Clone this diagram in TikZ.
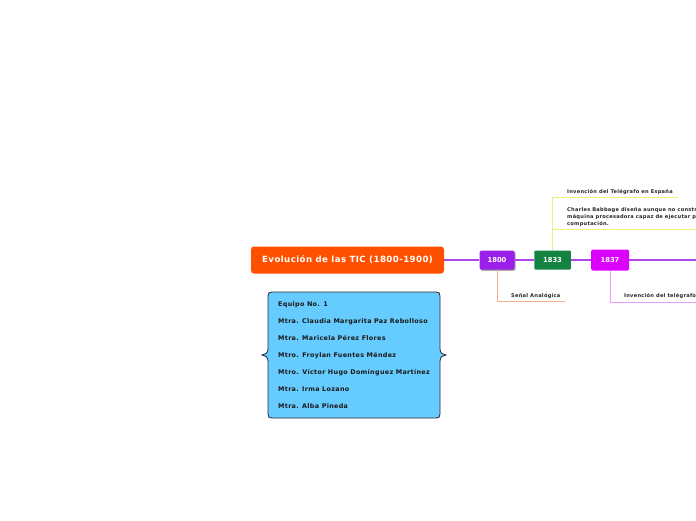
\documentclass[tikz,border=0pt]{standalone}
\usepackage{fontspec}
\setmainfont{DejaVu Sans}
\usetikzlibrary{shadows}
\definecolor{mainor}{RGB}{255,80,0}
\definecolor{trunk}{RGB}{175,70,230}
\definecolor{cA}{RGB}{155,30,235}
\definecolor{cB}{RGB}{20,130,65}
\definecolor{cC}{RGB}{220,0,255}
\definecolor{brA}{RGB}{248,175,140}
\definecolor{brB}{RGB}{238,240,130}
\definecolor{brC}{RGB}{238,155,255}
\definecolor{boxblue}{RGB}{102,204,255}
\definecolor{boxline}{RGB}{40,40,55}
\newfontfamily\wideface[LetterSpace=5]{DejaVu Sans}
\tikzset{
  yearbox/.style={rounded corners=1.5pt, text=white, font=\fontsize{6.8}{7}\selectfont\bfseries, inner sep=0pt},
  leaf/.style={anchor=base west, inner sep=0pt, font=\wideface\fontsize{5.1}{7}\selectfont\bfseries, text=black!85},
  member/.style={anchor=base west, inner sep=0pt, font=\wideface\fontsize{6.4}{7}\selectfont\bfseries, text=black!90},
  trunkline/.style={draw=trunk, line width=1.1pt},
}
\begin{document}
\begin{tikzpicture}[x=1pt,y=-1pt]
\useasboundingbox (0,0) rectangle (696,520);
\begin{scope}
\clip (0,0) rectangle (696,520);
% main topic
\node[fill=mainor, rounded corners=3pt, minimum width=193pt, minimum height=27pt, text=white,
      font=\wideface\fontsize{8.6}{9}\selectfont\bfseries] (main) at (347.5,260) {Evolución de las TIC (1800-1900)};
% year nodes
\node[yearbox, fill=cA, minimum width=35pt, minimum height=19pt,
      drop shadow={shadow xshift=1pt, shadow yshift=-1.3pt, fill=black!35, opacity=1}] (n1800) at (497,260) {1800};
\node[yearbox, fill=cB, rounded corners=1pt, minimum width=36.5pt, minimum height=19pt] (n1833) at (552.5,260) {1833};
\node[yearbox, fill=cC, minimum width=38pt, minimum height=21pt] (n1837) at (610,260) {1837};
\coordinate (rightend) at (700,260);
% trunk
\draw[trunkline] (main.east) -- (n1800.west);
\draw[trunkline] (n1800.east) -- (n1833.west);
\draw[trunkline] (n1833.east) -- (n1837.west);
\draw[trunkline] (n1837.east) -- (rightend);
% branches
\coordinate (eA) at (565,301.5);
\draw[brA, line width=0.9pt] (n1800.south) |- (eA);
\node[leaf] (lA) at (511,297.5) {Señal Analógica};
\coordinate (eB1) at (678,197);
\coordinate (eB2) at (700,229);
\draw[brB, line width=0.9pt] (n1833.north) |- (eB1);
\draw[brB, line width=0.9pt] (n1833.north) |- (eB2);
\node[leaf] (lB1) at (567,193) {Invención del Telégrafo en España};
\node[leaf, anchor=north west, align=left] (lB2) at (567,207.5) {Charles Babbage diseña aunque no constr\\máquina procesadora capaz de ejecutar p\\computación.};
\coordinate (eC) at (700,302);
\draw[brC, line width=0.9pt] (n1837.south) |- (eC);
\node[leaf] (lC) at (624,297.5) {Invención del telégrafo};
% team box
\draw[fill=boxblue, draw=boxline, line width=0.8pt]
  (272,292) -- (436,292) .. controls (439,292) and (440,293) .. (440,296)
  -- (440,349) .. controls (440,353) and (443,355) .. (446,355)
  .. controls (443,355) and (440,357) .. (440,361)
  -- (440,414) .. controls (440,417) and (439,418) .. (436,418)
  -- (272,418) .. controls (269,418) and (268,417) .. (268,414)
  -- (268,361) .. controls (268,357) and (265,355) .. (262,355)
  .. controls (265,355) and (268,353) .. (268,349)
  -- (268,296) .. controls (268,293) and (269,292) .. (272,292) -- cycle;
\node[member] (m0) at (278,306.5) {Equipo No. 1};
\node[member] (m1) at (278,323.5) {Mtra. Claudia Margarita Paz Rebolloso};
\node[member] (m2) at (278,340.5) {Mtra. Maricela Pérez Flores};
\node[member] (m3) at (278,357.5) {Mtro. Froylan Fuentes Méndez};
\node[member] (m4) at (278,374.5) {Mtro. Víctor Hugo Domínguez Martínez};
\node[member] (m5) at (278,391.5) {Mtra. Irma Lozano};
\node[member] (m6) at (278,408.5) {Mtra. Alba Pineda};
\end{scope}
\end{tikzpicture}
\end{document}
